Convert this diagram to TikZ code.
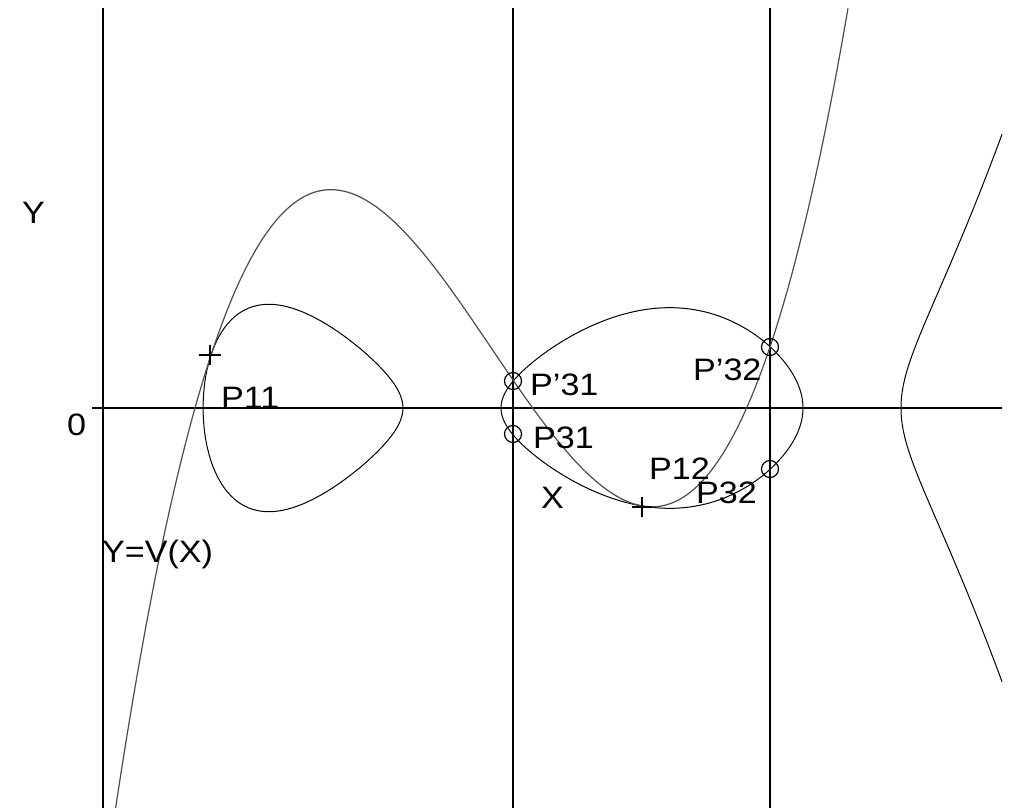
\documentclass[tikz,border=0pt]{standalone}
\usepackage{fontspec}
\setmainfont{Liberation Sans}
\newfontfamily\lblfont[FakeStretch=1.1]{Liberation Sans}
\begin{document}
\begin{tikzpicture}[x=1pt,y=-1pt,
  declare function={F(\s)=0.01555*(\s-2.03)*(\s-4.03)*(\s-5.01)*(\s-8.03)*(\s-9.01);
                    V(\s)=1.5352*(\s-1.95)-0.8222*(\s-1.95)*(\s-3.37)+0.19151*(\s-1.95)*(\s-3.37)*(\s-5.13);},
  axisline/.style={black,line width=1.4pt},
  curveline/.style={black,line width=1pt},
  cubicline/.style={black!70,line width=1.2pt},
  lbl/.style={inner sep=0pt,anchor=base west,font=\lblfont\fontsize{31}{31}\selectfont},
  ring/.style={draw=black,line width=1.2pt,circle,minimum size=17pt,inner sep=0pt}]
\useasboundingbox (0,0) rectangle (1013,808);
\begin{scope}
\clip (0,0) rectangle (1013,808);
% axes
\draw[axisline] (103,8) -- (103,808);
\draw[axisline] (513,8) -- (513,808);
\draw[axisline] (770,8) -- (770,808);
\draw[axisline] (92,408) -- (1002,408);
% left oval
\draw[curveline] plot[domain=0:360,samples=241,variable=\t]
  ({100*(2.03+2.00*(1-cos(\t))/2)},
   {408-ifthenelse(\t<=180,1,-1)*100*sqrt(max(F(2.03+2.00*(1-cos(\t))/2),0))}) -- cycle;
% middle oval
\draw[curveline] plot[domain=0:360,samples=241,variable=\t]
  ({100*(5.01+3.02*(1-cos(\t))/2)},
   {408-ifthenelse(\t<=180,1,-1)*100*sqrt(max(F(5.01+3.02*(1-cos(\t))/2),0))}) -- cycle;
% right branch
\draw[curveline] plot[domain=-90:90,samples=181,variable=\t]
  ({100*(9.01+1.01*(1-cos(\t)))},
   {408+ifthenelse(\t<0,-1,1)*100*sqrt(max(F(9.01+1.01*(1-cos(\t))),0))});
% cubic Y=V(X)
\draw[cubicline] plot[domain=1.155:8.48,samples=220,variable=\t] ({100*\t},{408-100*V(\t)});
\end{scope}
% marks
\node[ring] (cP31p) at (513,381) {};
\node[ring] (cP31) at (513,434) {};
\node[ring] (cP32p) at (770,347) {};
\node[ring] (cP32) at (770,469) {};
\coordinate (m11) at (210,355);
\coordinate (m12) at (642,507);
\draw[black,line width=1.2pt] ([xshift=-11pt]m11) -- ([xshift=11pt]m11) ([yshift=-10pt]m11) -- ([yshift=10pt]m11);
\draw[black,line width=1.2pt] ([xshift=-10pt]m12) -- ([xshift=10pt]m12) ([yshift=-10pt]m12) -- ([yshift=10pt]m12);
% labels
\node[lbl] (lY) at (22,223) {Y};
\node[lbl] (l0) at (67,435) {0};
\node[lbl] (lP11) at (221,408) {P11};
\node[lbl] (lYV) at (102,562) {Y=V(X)};
\node[lbl] (lX) at (541,508) {X};
\node[lbl] (lP31p) at (530,395) {P’31};
\node[lbl] (lP31) at (533,448) {P31};
\node[lbl] (lP12) at (649,479) {P12};
\node[lbl] (lP32) at (696,503) {P32};
\node[lbl] (lP32p) at (693,380) {P’32};
\end{tikzpicture}
\end{document}
